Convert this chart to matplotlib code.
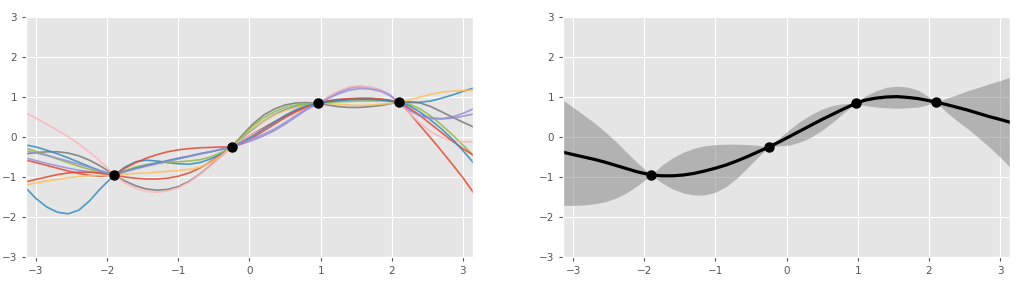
import numpy as np
import matplotlib
matplotlib.use("Agg")
import matplotlib.pyplot as plt

plt.style.use("ggplot")

# observed points
x_obs = [-1.9, -0.25, 0.97, 2.1]
y_obs = [-0.95, -0.25, 0.84, 0.87]

# common x grid for the curves
xs = [-3.14, -3.0, -2.85, -2.7, -2.55, -2.4, -2.25, -2.1, -1.9,
      -1.75, -1.6, -1.45, -1.3, -1.15, -1.0, -0.85, -0.7, -0.55, -0.4, -0.25,
      -0.1, 0.05, 0.2, 0.35, 0.5, 0.65, 0.8, 0.97,
      1.1, 1.25, 1.4, 1.55, 1.7, 1.85, 1.97, 2.1,
      2.25, 2.4, 2.55, 2.7, 2.85, 3.0, 3.14]

# posterior samples (left panel), in colour-cycle order
red1 = [-0.58, -0.64, -0.71, -0.78, -0.85, -0.91, -0.96, -0.98, -0.95,
        -1.0, -1.03, -1.05, -1.05, -1.03, -0.98, -0.9, -0.78, -0.62, -0.44, -0.25,
        -0.08, 0.08, 0.23, 0.38, 0.52, 0.65, 0.76, 0.84,
        0.9, 0.94, 0.96, 0.97, 0.97, 0.95, 0.92, 0.87,
        0.6, 0.28, -0.03, -0.35, -0.68, -1.02, -1.37]
blue1 = [-1.28, -1.54, -1.75, -1.88, -1.92, -1.83, -1.6, -1.3, -0.95,
         -0.75, -0.62, -0.58, -0.6, -0.64, -0.67, -0.68, -0.64, -0.55, -0.42, -0.25,
         -0.02, 0.2, 0.4, 0.56, 0.68, 0.76, 0.81, 0.84,
         0.89, 0.92, 0.94, 0.95, 0.94, 0.92, 0.9, 0.87,
         0.86, 0.87, 0.9, 0.97, 1.05, 1.14, 1.22]
purple1 = [-0.53, -0.59, -0.66, -0.72, -0.78, -0.83, -0.87, -0.91, -0.95,
           -0.85, -0.78, -0.72, -0.66, -0.6, -0.54, -0.48, -0.42, -0.37, -0.31, -0.25,
           -0.17, -0.08, 0.03, 0.16, 0.32, 0.5, 0.68, 0.84,
           0.98, 1.12, 1.22, 1.26, 1.24, 1.17, 1.06, 0.87,
           0.68, 0.55, 0.48, 0.46, 0.5, 0.59, 0.70]
gray1 = [-0.42, -0.39, -0.37, -0.37, -0.4, -0.47, -0.58, -0.72, -0.95,
         -1.1, -1.22, -1.3, -1.33, -1.31, -1.24, -1.11, -0.93, -0.71, -0.48, -0.25,
         0.05, 0.33, 0.55, 0.7, 0.8, 0.85, 0.86, 0.84,
         0.8, 0.76, 0.74, 0.74, 0.76, 0.79, 0.83, 0.87,
         0.88, 0.85, 0.76, 0.63, 0.5, 0.37, 0.26]
yellow1 = [-1.2, -1.15, -1.1, -1.06, -1.02, -0.99, -0.97, -0.96, -0.95,
           -0.93, -0.91, -0.9, -0.88, -0.86, -0.84, -0.81, -0.76, -0.64, -0.47, -0.25,
           0.0, 0.22, 0.4, 0.55, 0.66, 0.74, 0.8, 0.84,
           0.84, 0.82, 0.8, 0.79, 0.8, 0.82, 0.84, 0.87,
           0.93, 1.0, 1.07, 1.12, 1.15, 1.16, 1.17]
green1 = [-0.28, -0.36, -0.45, -0.55, -0.64, -0.73, -0.81, -0.88, -0.95,
          -0.84, -0.75, -0.69, -0.65, -0.63, -0.62, -0.6, -0.57, -0.5, -0.39, -0.25,
          0.02, 0.28, 0.48, 0.63, 0.74, 0.8, 0.83, 0.84,
          0.86, 0.88, 0.89, 0.9, 0.9, 0.9, 0.89, 0.87,
          0.82, 0.7, 0.52, 0.3, 0.06, -0.2, -0.45]
pink1 = [0.6, 0.47, 0.32, 0.17, 0.01, -0.17, -0.38, -0.6, -0.95,
         -1.15, -1.28, -1.36, -1.38, -1.35, -1.27, -1.13, -0.94, -0.72, -0.49, -0.25,
         -0.07, 0.07, 0.2, 0.33, 0.47, 0.6, 0.72, 0.84,
         1.0, 1.15, 1.25, 1.28, 1.24, 1.16, 1.04, 0.87,
         0.6, 0.34, 0.13, -0.01, -0.09, -0.12, -0.12]
red2 = [-1.12, -1.06, -1.0, -0.94, -0.9, -0.88, -0.88, -0.9, -0.95,
        -0.78, -0.64, -0.53, -0.44, -0.37, -0.32, -0.29, -0.27, -0.26, -0.25, -0.25,
        -0.15, -0.01, 0.15, 0.32, 0.49, 0.63, 0.75, 0.84,
        0.9, 0.93, 0.95, 0.96, 0.96, 0.94, 0.91, 0.87,
        0.72, 0.53, 0.32, 0.11, -0.1, -0.29, -0.45]
blue2 = [-0.2, -0.25, -0.33, -0.42, -0.52, -0.63, -0.74, -0.84, -0.95,
         -0.86, -0.78, -0.71, -0.65, -0.59, -0.53, -0.48, -0.42, -0.37, -0.31, -0.25,
         -0.12, 0.03, 0.2, 0.37, 0.54, 0.68, 0.78, 0.84,
         0.88, 0.91, 0.93, 0.94, 0.94, 0.93, 0.9, 0.87,
         0.78, 0.62, 0.42, 0.2, -0.05, -0.34, -0.63]
purple2 = [-0.35, -0.4, -0.46, -0.53, -0.6, -0.68, -0.76, -0.85, -0.95,
           -0.87, -0.8, -0.73, -0.67, -0.61, -0.55, -0.49, -0.43, -0.37, -0.31, -0.25,
           -0.14, -0.04, 0.07, 0.2, 0.36, 0.53, 0.7, 0.84,
           0.96, 1.08, 1.17, 1.21, 1.2, 1.14, 1.04, 0.87,
           0.66, 0.52, 0.46, 0.45, 0.47, 0.52, 0.57]
samples = [red1, blue1, purple1, gray1, yellow1, green1, pink1, red2, blue2, purple2]

# posterior mean and band (right panel)
mean = [-0.38, -0.44, -0.50, -0.56, -0.63, -0.71, -0.79, -0.87, -0.95,
        -0.97, -0.97, -0.95, -0.91, -0.85, -0.78, -0.70, -0.60, -0.49, -0.37, -0.25,
        -0.12, 0.02, 0.16, 0.30, 0.44, 0.57, 0.70, 0.84,
        0.92, 0.97, 1.00, 1.01, 0.99, 0.96, 0.92, 0.87,
        0.81, 0.74, 0.67, 0.59, 0.51, 0.44, 0.37]
upper = [0.92, 0.74, 0.55, 0.35, 0.13, -0.11, -0.38, -0.64, -0.95,
         -0.70, -0.52, -0.38, -0.28, -0.22, -0.19, -0.18, -0.18, -0.19, -0.21, -0.25,
         -0.02, 0.20, 0.40, 0.57, 0.70, 0.79, 0.83, 0.84,
         1.02, 1.15, 1.24, 1.27, 1.25, 1.17, 1.04, 0.87,
         0.97, 1.06, 1.16, 1.24, 1.33, 1.41, 1.49]
lower = [-1.71, -1.71, -1.70, -1.67, -1.62, -1.53, -1.40, -1.22, -0.95,
         -1.15, -1.30, -1.40, -1.45, -1.45, -1.38, -1.24, -1.03, -0.77, -0.50, -0.25,
         -0.22, -0.20, -0.12, 0.00, 0.17, 0.37, 0.60, 0.84,
         0.79, 0.75, 0.73, 0.72, 0.73, 0.75, 0.80, 0.87,
         0.62, 0.40, 0.20, -0.02, -0.25, -0.50, -0.75]

fig = plt.figure(figsize=(10.35, 2.84), dpi=100)
ax1 = fig.add_axes([0.0251, 0.0951, 0.4319, 0.845])
ax2 = fig.add_axes([0.544, 0.0951, 0.4319, 0.845])

for s in samples:
    ax1.plot(xs, s, lw=1.2, alpha=0.85)
ax1.plot(x_obs, y_obs, "ko", ms=6.5, zorder=5)

ax2.fill_between(xs, lower, upper, color="gray", alpha=0.5, lw=0)
ax2.plot(xs, mean, color="black", lw=2.3)
ax2.plot(x_obs, y_obs, "ko", ms=6.5, zorder=5)

for ax in (ax1, ax2):
    ax.set_xlim(-np.pi, np.pi)
    ax.set_ylim(-3, 3)
    ax.set_xticks(range(-3, 4))
    ax.set_yticks(range(-3, 4))
    ax.tick_params(labelsize=7.5, length=3)

fig.savefig("out.png", dpi=100)
